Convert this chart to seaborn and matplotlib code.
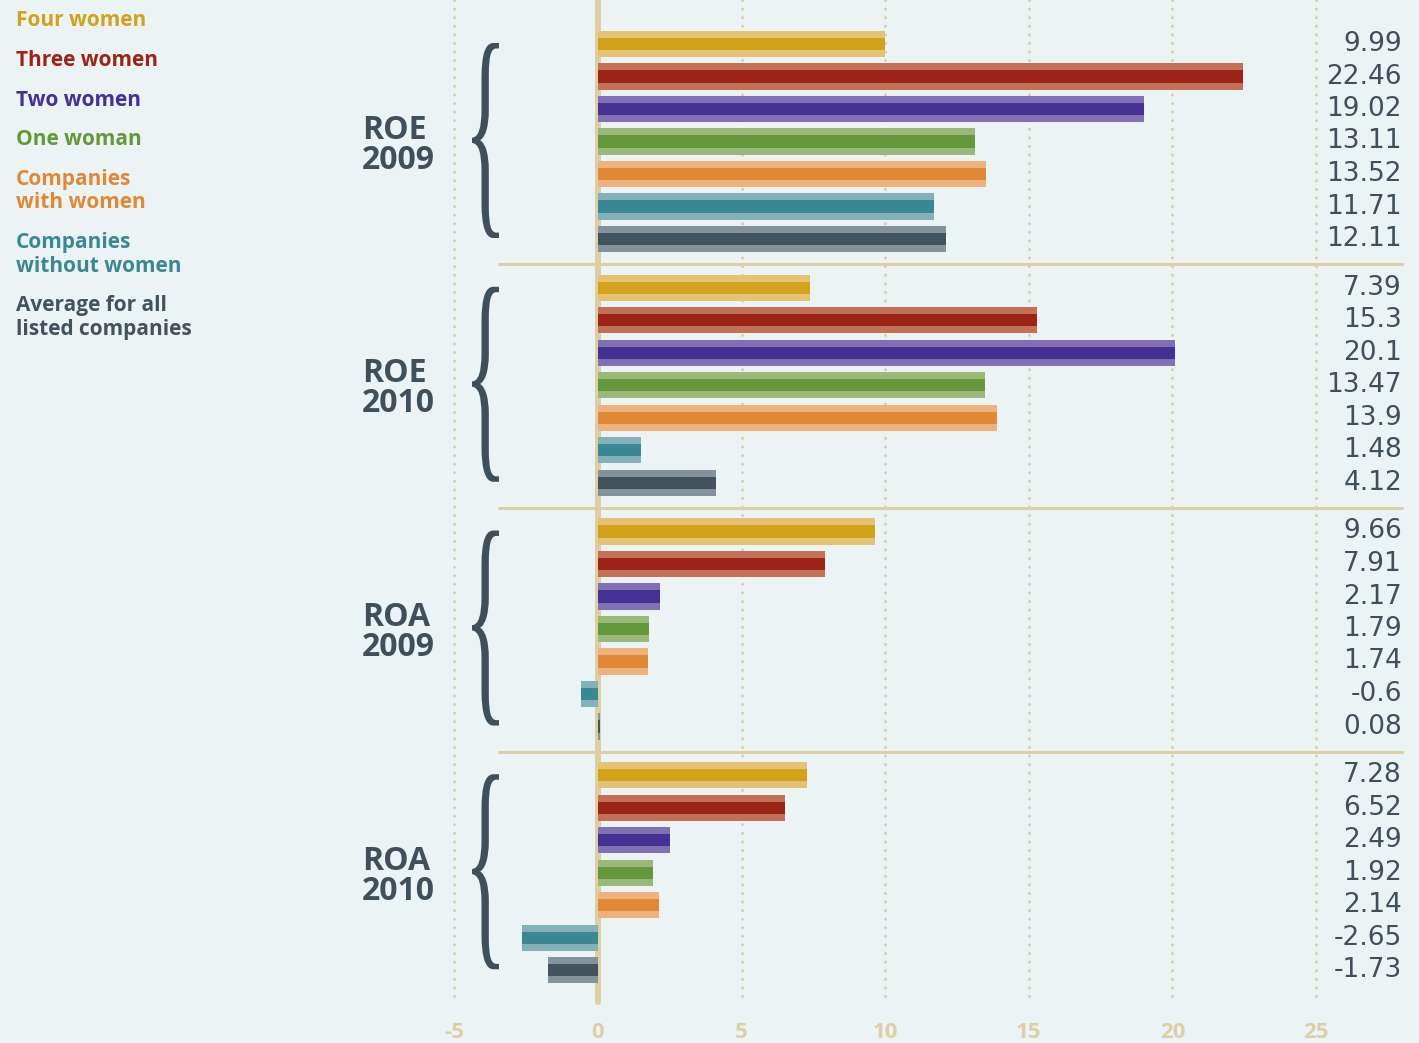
"""
ROE / ROA by number of women on the board - horizontal striped bars.
"""

import pandas as pd
import matplotlib.pyplot as plt
import seaborn as sns
from matplotlib.textpath import TextPath
from matplotlib.font_manager import FontProperties
from matplotlib.patches import PathPatch
from matplotlib.path import Path
from matplotlib.transforms import Affine2D

# data
categories = ["Four women", "Three women", "Two women", "One woman",
              "Companies\nwith women", "Companies\nwithout women",
              "Average for all\nlisted companies"]
metrics = ["ROE", "ROE", "ROA", "ROA"]
years = ["2009", "2010", "2009", "2010"]
roe_2009 = [9.99, 22.46, 19.02, 13.11, 13.52, 11.71, 12.11]
roe_2010 = [7.39, 15.3, 20.1, 13.47, 13.9, 1.48, 4.12]
roa_2009 = [9.66, 7.91, 2.17, 1.79, 1.74, -0.6, 0.08]
roa_2010 = [7.28, 6.52, 2.49, 1.92, 2.14, -2.65, -1.73]
x_ticks = [-5, 0, 5, 10, 15, 20, 25]

dark_colors = ["#d1a21a", "#9c2417", "#453093", "#64983a",
               "#e08835", "#3a8892", "#43535e"]
light_colors = ["#e3c175", "#c27157", "#8170b3", "#9ab87a",
                "#edb27d", "#84b0b8", "#84939b"]
bg = "#ecf3f5"
beige = "#dccfa5"
text_dark = "#3f505b"

# layout: pixel mapping of the reference
X0_PX, X_SCALE = 598, 28.72
Y0_PX, Y_SCALE = 44, 32.5
W, H = 1419, 1043
GROUP_STEP = 7.5


def px_x(p):
    return (p - X0_PX) / X_SCALE


def px_y(p):
    return (p - Y0_PX) / Y_SCALE


rows = []
for g, vals in enumerate([roe_2009, roe_2010, roa_2009, roa_2010]):
    for i, v in enumerate(vals):
        rows.append({"category": categories[i], "value": v,
                     "pos": g * GROUP_STEP + i})
df = pd.DataFrame(rows)

sns.set_style("white")
fig = plt.figure(figsize=(W / 100, H / 100), dpi=100)
fig.patch.set_facecolor(bg)
ax = fig.add_axes([0, 0, 1, 1])
ax.set_facecolor(bg)

# light outer bar, then dark middle stripe
sns.barplot(data=df, x="value", y="pos", hue="category", hue_order=categories,
            palette=light_colors, orient="h", native_scale=True, dodge=False,
            width=0.815, legend=False, linewidth=0, errorbar=None, saturation=1,
            ax=ax, zorder=2)
sns.barplot(data=df, x="value", y="pos", hue="category", hue_order=categories,
            palette=dark_colors, orient="h", native_scale=True, dodge=False,
            width=0.37, legend=False, linewidth=0, errorbar=None, saturation=1,
            ax=ax, zorder=3)

top, grid_bottom = px_y(0), px_y(1002)

# dotted gridlines and solid zero line
for t in x_ticks:
    if t == 0:
        ax.plot([0, 0], [top, grid_bottom], color=beige, lw=4.3, zorder=1)
    else:
        ax.plot([t, t], [top, grid_bottom], color=beige, lw=2.2,
                ls=(0, (0.01, 2.8)), dash_capstyle="round", zorder=1)
    ax.text(t, px_y(1033), str(t), ha="center", va="center", fontsize=16,
            fontweight="bold", color=beige, family="Open Sans")

# separators between groups
for g in range(1, 4):
    ax.plot([px_x(499), px_x(1402)], [g * GROUP_STEP - 0.72] * 2,
            color=beige, lw=2.2, zorder=1)

# value labels on the right
for _, r in df.iterrows():
    ax.text(px_x(1402), r["pos"], str(r["value"]), ha="right", va="center",
            fontsize=19, color=text_dark, family="DejaVu Sans")

# group labels and braces
tp = TextPath((0, 0), "{", size=1, prop=FontProperties(family="Liberation Serif"))
ext = tp.get_extents()
unit = Affine2D().translate(-ext.x0, -ext.y0).scale(1 / ext.width, 1 / ext.height)
for g in range(4):
    start = g * GROUP_STEP
    ax.text(px_x(362), start + 2.65, metrics[g], ha="left", va="center",
            fontsize=23, fontweight="bold", color=text_dark, family="Open Sans")
    ax.text(px_x(362), start + 3.57, years[g], ha="left", va="center",
            fontsize=23, fontweight="bold", color=text_dark, family="Open Sans")
    bw, bh = 27 / X_SCALE, 6.0
    to_data = Affine2D().scale(bw, -bh).translate(px_x(472), start - 0.03 + bh)
    brace = Path(tp.vertices, tp.codes).transformed(unit + to_data)
    ax.add_patch(PathPatch(brace, facecolor=text_dark, edgecolor="none", zorder=3))

# legend on the left
y = 21
for cat, col in zip(categories, dark_colors):
    for j, line in enumerate(cat.split("\n")):
        fig.text(16 / W, 1 - (y + 24 * j) / H, line, ha="left", va="center",
                 fontsize=15, fontweight="bold", color=col, family="Open Sans")
    y += 39.5 + 24 * cat.count("\n")

ax.set_xlim(px_x(0), px_x(W))
ax.set_ylim(px_y(H), px_y(0))
ax.axis("off")

fig.savefig("out.png", dpi=100, facecolor=bg)
